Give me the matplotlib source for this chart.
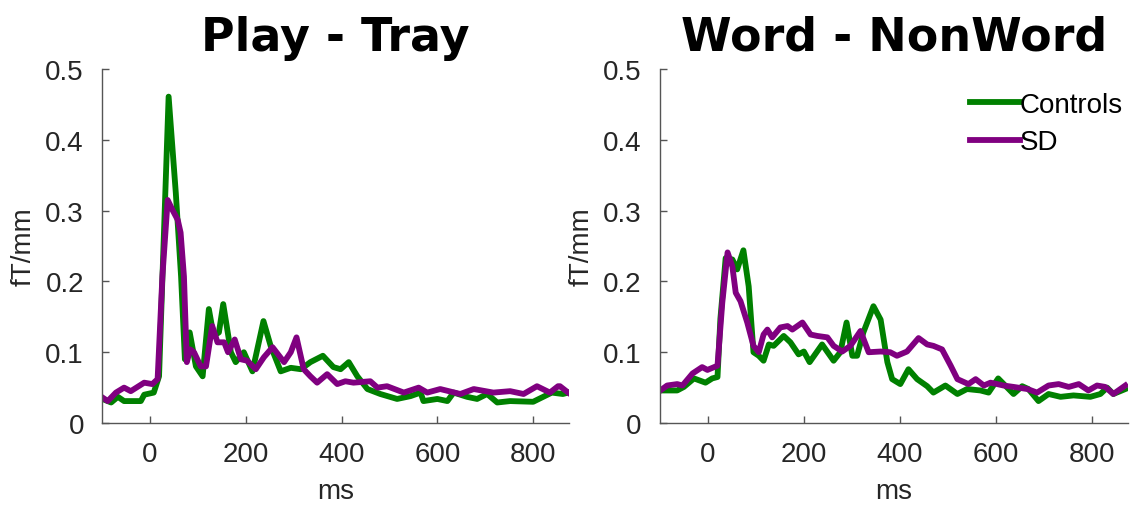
import numpy as np
import matplotlib.pyplot as plt

# ---- data (ms, fT/mm) ----
# Play - Tray
pt_ctrl_t = [-99, -81, -67, -54, -19, -12, 8, 19, 39, 54, 65, 73, 83, 96, 110, 123, 133, 144,
             153, 169, 179, 196, 214, 237, 252, 273, 294, 315, 335, 361, 383, 398, 415, 433,
             454, 481, 516, 544, 565, 571, 600, 621, 634, 662, 683, 704, 725, 752, 800, 821,
             839, 862, 873]
pt_ctrl_v = [0.034, 0.029, 0.037, 0.031, 0.031, 0.040, 0.043, 0.066, 0.461, 0.325, 0.207, 0.090,
             0.128, 0.080, 0.066, 0.161, 0.123, 0.128, 0.168, 0.100, 0.086, 0.100, 0.073, 0.144,
             0.109, 0.073, 0.078, 0.076, 0.086, 0.095, 0.079, 0.076, 0.086, 0.066, 0.048, 0.041,
             0.034, 0.038, 0.043, 0.031, 0.034, 0.031, 0.043, 0.037, 0.034, 0.041, 0.029, 0.031,
             0.030, 0.037, 0.043, 0.041, 0.043]
pt_sd_t = [-99, -88, -71, -54, -40, -12, 5, 16, 26, 37, 47, 58, 64, 71, 77, 84, 92, 106, 117,
           130, 141, 155, 163, 177, 190, 203, 221, 238, 256, 280, 294, 306, 321, 335, 349, 370,
           391, 408, 425, 460, 475, 495, 530, 561, 579, 606, 648, 676, 717, 752, 780, 808, 835,
           852, 856, 873]
pt_sd_v = [0.036, 0.031, 0.043, 0.050, 0.045, 0.057, 0.055, 0.062, 0.207, 0.315, 0.301, 0.287,
           0.269, 0.207, 0.086, 0.104, 0.100, 0.080, 0.080, 0.137, 0.114, 0.114, 0.100, 0.118,
           0.090, 0.088, 0.076, 0.093, 0.107, 0.086, 0.100, 0.121, 0.076, 0.066, 0.057, 0.069,
           0.055, 0.059, 0.057, 0.059, 0.050, 0.052, 0.043, 0.050, 0.043, 0.048, 0.041, 0.048,
           0.043, 0.045, 0.041, 0.052, 0.043, 0.052, 0.052, 0.043]

# Word - NonWord
wn_ctrl_t = [-99, -64, -50, -29, -5, 9, 20, 26, 37, 51, 61, 74, 85, 95, 106, 116, 127, 137, 158,
             172, 189, 200, 212, 238, 262, 276, 289, 301, 311, 324, 345, 360, 374, 384, 401, 418,
             436, 457, 470, 495, 520, 540, 568, 585, 605, 637, 655, 668, 689, 710, 735, 762, 797,
             818, 832, 845, 870]
wn_ctrl_v = [0.046, 0.046, 0.051, 0.063, 0.057, 0.063, 0.065, 0.147, 0.233, 0.231, 0.217, 0.244,
             0.193, 0.100, 0.095, 0.088, 0.111, 0.109, 0.123, 0.114, 0.097, 0.101, 0.086, 0.111,
             0.088, 0.100, 0.142, 0.095, 0.095, 0.128, 0.165, 0.146, 0.086, 0.062, 0.055, 0.076,
             0.062, 0.052, 0.043, 0.053, 0.041, 0.048, 0.046, 0.043, 0.063, 0.041, 0.052, 0.048,
             0.031, 0.041, 0.037, 0.039, 0.037, 0.041, 0.050, 0.041, 0.048]
wn_sd_t = [-99, -85, -64, -53, -32, -12, -1, 20, 30, 41, 51, 58, 68, 82, 95, 106, 116, 124, 134,
           151, 166, 176, 197, 214, 228, 249, 262, 280, 297, 318, 335, 360, 380, 394, 415, 439,
           457, 470, 488, 506, 520, 543, 558, 575, 589, 603, 616, 637, 666, 686, 710, 731, 752,
           773, 793, 811, 828, 845, 870]
wn_sd_v = [0.046, 0.053, 0.055, 0.053, 0.070, 0.079, 0.075, 0.081, 0.170, 0.241, 0.221, 0.184,
           0.172, 0.142, 0.109, 0.100, 0.125, 0.132, 0.121, 0.135, 0.137, 0.132, 0.142, 0.125,
           0.123, 0.121, 0.109, 0.101, 0.109, 0.130, 0.100, 0.101, 0.100, 0.095, 0.101, 0.120,
           0.111, 0.109, 0.104, 0.081, 0.062, 0.055, 0.062, 0.053, 0.057, 0.055, 0.053, 0.051,
           0.048, 0.043, 0.053, 0.055, 0.051, 0.055, 0.046, 0.053, 0.051, 0.041, 0.053]

titles = ['Play - Tray', 'Word - NonWord']
series = [(pt_ctrl_t, pt_ctrl_v, pt_sd_t, pt_sd_v),
          (wn_ctrl_t, wn_ctrl_v, wn_sd_t, wn_sd_v)]
xticks = [0, 200, 400, 600, 800]
yticks = [0, 0.1, 0.2, 0.3, 0.4, 0.5]
ytick_labels = ['0', '0.1', '0.2', '0.3', '0.4', '0.5']

green = '#008000'
purple = '#800080'
grey = '#262626'

plt.rcParams['font.family'] = ['Liberation Sans', 'DejaVu Sans']

fig = plt.figure(figsize=(11.3, 5.06), dpi=100)
positions = [[0.0903, 0.162, 0.4133, 0.6996], [0.584, 0.162, 0.414, 0.6996]]

for i, pos in enumerate(positions):
    ax = fig.add_axes(pos)
    ct, cv, st, sv = series[i]
    ax.plot(ct, cv, color=green, lw=4.2, label='Controls', solid_joinstyle='round')
    ax.plot(st, sv, color=purple, lw=4.2, label='SD', solid_joinstyle='round')
    ax.set_xlim(-100, 875)
    ax.set_ylim(0, 0.5)
    ax.set_xticks(xticks)
    ax.set_yticks(yticks)
    ax.set_yticklabels(ytick_labels)
    for s in ['top', 'right']:
        ax.spines[s].set_visible(False)
    for s in ['left', 'bottom']:
        ax.spines[s].set_color('#555555')
        ax.spines[s].set_linewidth(1.0)
    ax.tick_params(direction='in', length=5, width=1, color='#555555',
                   labelsize=20, labelcolor=grey)
    ax.tick_params(axis='y', pad=13)
    ax.tick_params(axis='x', pad=13)
    ax.set_xlabel('ms', fontsize=20, color=grey, labelpad=8)
    ax.set_ylabel('fT/mm', fontsize=20, color=grey, labelpad=6)
    ax.set_title(titles[i], fontsize=33, fontweight='bold', family='DejaVu Sans', pad=14)
    if i == 1:
        ax.legend(loc='upper right', bbox_to_anchor=(1.013, 0.966), frameon=False,
                  fontsize=20, handlelength=1.8, handletextpad=0.0, labelspacing=0.4,
                  borderaxespad=0.0)

fig.savefig('out.png', dpi=100)
